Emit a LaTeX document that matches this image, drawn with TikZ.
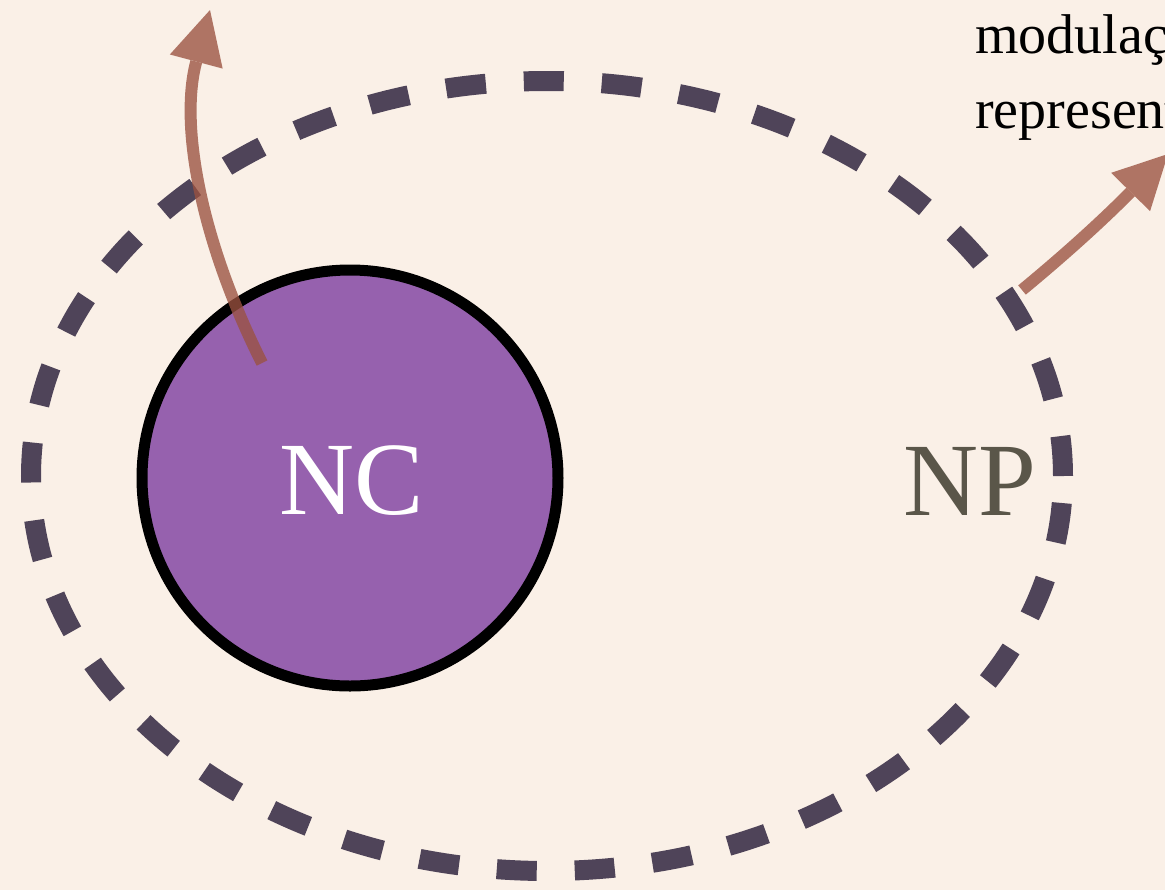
\documentclass[tikz,border=0pt]{standalone}
\usepackage{fontspec}
\setmainfont{Liberation Serif}
\usetikzlibrary{arrows.meta,shapes.geometric}
\definecolor{bgc}{HTML}{FAF0E7}
\definecolor{dashc}{HTML}{4F4459}
\definecolor{ncfill}{HTML}{9661AE}
\definecolor{arrc}{HTML}{9B5240}
\definecolor{npc}{HTML}{5A5649}
\tikzset{
  ringdash/.style={draw=dashc, line width=15pt, dash pattern=on 30pt off 28.5pt},
  flow/.style={draw=arrc, line width=9pt,
    -{Triangle[length=40pt,width=41pt,line width=0pt,fill=arrc]}},
  bigtext/.style={font=\fontsize{78}{80}\selectfont, inner sep=0pt}
}
\begin{document}
\begin{tikzpicture}[x=0.75pt,y=-0.75pt]
\useasboundingbox (0,0) rectangle (1165,890);
\clip (0,0) rectangle (1165,890);
\fill[bgc] (0,0) rectangle (1165,890);
% dashed ellipse
\node[ringdash, ellipse, minimum width=1032*0.75pt, minimum height=790*0.75pt, inner sep=0pt] (npring) at (547,476) {};
% NC circle
\node[circle, draw=black, line width=8.25pt, fill=ncfill, minimum size=416*0.75pt, inner sep=0pt] (nc) at (350,478) {};
\node[bigtext, text=white] (nclabel) at (352,481) {NC};
\node[bigtext, text=npc] (nplabel) at (970,481) {NP};
% arrows
\coordinate (a1s) at (262,363);
\coordinate (a1e) at (210,10);
\coordinate (a2s) at (1022,290);
\coordinate (a2e) at (1168,154);
\begin{scope}[transparency group, opacity=0.78]
\draw[flow] (a1s) .. controls (205,250) and (178,130) .. (a1e);
\end{scope}
\begin{scope}[transparency group, opacity=0.78]
\draw[flow] (a2s) .. controls (1068,252) and (1105,218) .. (a2e);
\end{scope}
% text
\node[anchor=base west, inner sep=0pt, font=\fontsize{42}{56}\selectfont] (t1) at (975,53) {modulação};
\node[anchor=base west, inner sep=0pt, font=\fontsize{42}{56}\selectfont] (t2) at (975,128) {representação};
\end{tikzpicture}
\end{document}
